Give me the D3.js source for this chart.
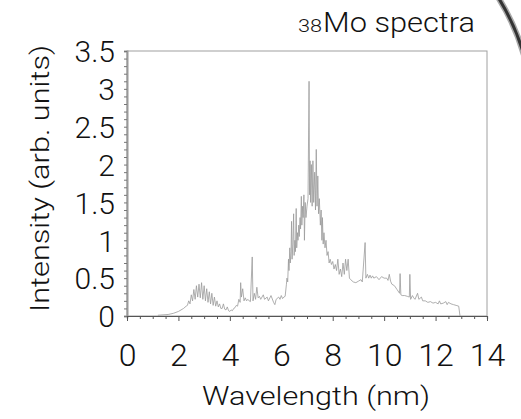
<!DOCTYPE html>
<html>
<head>
<meta charset="utf-8">
<script src="https://cdn.jsdelivr.net/npm/d3@7"></script>
<style>
  html, body { margin: 0; padding: 0; background: #fff; }
  svg { display: block; }
  text { font-family: 'Roboto', 'Liberation Sans', sans-serif; font-weight: 300; fill: #111; }
</style>
</head>
<body>
<svg id="chart" width="521" height="419"></svg>
<script>
// ---- data ----
const wavelength = [
  1.2, 1.4, 1.6, 1.8, 2.0, 2.1, 2.2, 2.3, 2.35, 2.4, 2.45, 2.5, 2.55, 2.6, 2.65, 2.7, 2.75, 2.8, 2.85, 2.9,
  2.95, 3.0, 3.05, 3.1, 3.15, 3.2, 3.25, 3.3, 3.35, 3.4, 3.45, 3.5, 3.55, 3.6, 3.65, 3.7, 3.75, 3.8, 3.85, 3.9,
  3.95, 4.0, 4.05, 4.1, 4.15, 4.2, 4.25, 4.3, 4.35, 4.4, 4.42, 4.45, 4.5, 4.55, 4.6, 4.65, 4.7, 4.75, 4.8, 4.87,
  4.9, 4.95, 5.0, 5.05, 5.1, 5.15, 5.2, 5.3, 5.35, 5.45, 5.5, 5.6, 5.7, 5.75, 5.8, 5.9, 5.95, 6.0, 6.05, 6.1,
  6.15, 6.2, 6.22, 6.25, 6.28, 6.3, 6.33, 6.35, 6.38, 6.4, 6.42, 6.45, 6.48, 6.5, 6.53, 6.55, 6.58, 6.6, 6.63, 6.65,
  6.68, 6.7, 6.73, 6.75, 6.78, 6.8, 6.83, 6.85, 6.88, 6.9, 6.93, 6.96, 7.0, 7.04, 7.08, 7.1, 7.12, 7.14, 7.17, 7.2,
  7.23, 7.26, 7.3, 7.33, 7.36, 7.39, 7.42, 7.45, 7.48, 7.52, 7.55, 7.58, 7.6, 7.63, 7.66, 7.7, 7.74, 7.78, 7.82, 7.86,
  7.9, 7.95, 8.0, 8.05, 8.1, 8.15, 8.2, 8.25, 8.3, 8.35, 8.4, 8.45, 8.5, 8.55, 8.6, 8.65, 8.7, 8.8, 8.9, 9.0,
  9.1, 9.15, 9.26, 9.29, 9.35, 9.4, 9.45, 9.5, 9.55, 9.6, 9.7, 9.8, 9.9, 10.0, 10.1, 10.15, 10.2, 10.25, 10.3, 10.4,
  10.5, 10.6, 10.62, 10.65, 10.7, 10.8, 10.9, 10.98, 11.0, 11.03, 11.1, 11.15, 11.2, 11.3, 11.35, 11.45, 11.5, 11.6, 11.7, 11.8,
  11.9, 12.0, 12.1, 12.15, 12.2, 12.3, 12.4, 12.45, 12.5, 12.6, 12.7, 12.8, 12.9, 12.95
];
const intensity = [
  0.01, 0.015, 0.02, 0.035, 0.06, 0.08, 0.1, 0.13, 0.14, 0.2, 0.16, 0.28, 0.2, 0.35, 0.22, 0.4, 0.25, 0.42, 0.24, 0.44,
  0.22, 0.4, 0.2, 0.36, 0.18, 0.32, 0.16, 0.3, 0.14, 0.25, 0.13, 0.2, 0.12, 0.16, 0.1, 0.1, 0.16, 0.09, 0.08, 0.12,
  0.07, 0.06, 0.08, 0.07, 0.1, 0.11, 0.14, 0.13, 0.22, 0.18, 0.44, 0.25, 0.36, 0.2, 0.24, 0.2, 0.22, 0.2, 0.19, 0.78,
  0.2, 0.3, 0.22, 0.38, 0.24, 0.26, 0.22, 0.28, 0.22, 0.25, 0.2, 0.27, 0.18, 0.15, 0.22, 0.25, 0.22, 0.27, 0.23, 0.25,
  0.26, 0.42, 0.5, 0.45, 0.75, 0.6, 0.9, 0.7, 0.85, 1.25, 0.75, 0.95, 1.35, 0.8, 1.0, 0.85, 1.42, 0.9, 1.1, 1.0,
  1.2, 1.05, 1.3, 1.15, 1.58, 1.2, 1.45, 1.3, 1.6, 1.0, 1.5, 1.3, 1.45, 1.55, 3.1, 1.6, 2.05, 1.5, 2.0, 1.45,
  2.05, 1.5, 1.9, 1.4, 2.2, 1.45, 1.85, 1.35, 1.55, 1.2, 1.4, 1.0, 1.3, 0.95, 1.1, 0.9, 1.0, 0.8, 0.85, 0.7,
  0.75, 0.68, 0.72, 0.62, 0.68, 0.6, 0.75, 0.55, 0.62, 0.52, 0.7, 0.55, 0.75, 0.6, 0.75, 0.5, 0.48, 0.45, 0.44, 0.46,
  0.48, 0.45, 0.97, 0.5, 0.55, 0.5, 0.54, 0.5, 0.53, 0.5, 0.52, 0.48, 0.52, 0.5, 0.5, 0.47, 0.55, 0.46, 0.42, 0.4,
  0.35, 0.3, 0.56, 0.28, 0.27, 0.27, 0.26, 0.25, 0.55, 0.22, 0.27, 0.24, 0.22, 0.3, 0.22, 0.25, 0.2, 0.2, 0.18, 0.19,
  0.17, 0.18, 0.16, 0.2, 0.16, 0.17, 0.19, 0.15, 0.18, 0.16, 0.15, 0.14, 0.13, 0.0
];
const xTickLabels = [0, 2, 4, 6, 8, 10, 12, 14];
const yTickLabels = [0, 0.5, 1, 1.5, 2, 2.5, 3, 3.5];
const xLabel = "Wavelength (nm)";
const yLabel = "Intensity (arb. units)";
const titleSub = "38";
const titleMain = "Mo spectra";

// ---- layout ----
const svg = d3.select("#chart");
const mLeft = 127, mRight = 487, mTop = 51, mBottom = 316;

const x = d3.scaleLinear().domain([0, 14]).range([mLeft, mRight]);
const y = d3.scaleLinear().domain([0, 3.5]).range([mBottom, mTop]);

// frame
svg.append("rect")
  .attr("x", mLeft).attr("y", mTop)
  .attr("width", mRight - mLeft).attr("height", mBottom - mTop)
  .attr("fill", "none").attr("stroke", "#a0a0a0").attr("stroke-width", 1);

// spectrum
const pts = wavelength.map((w, i) => [w, intensity[i]]);
svg.append("path")
  .datum(pts)
  .attr("fill", "none")
  .attr("stroke", "#9a9a9a")
  .attr("stroke-width", 0.8)
  .attr("d", d3.line().x(d => x(d[0])).y(d => y(d[1])));

// y minor ticks
const yMinor = svg.append("g").attr("transform", `translate(${mLeft},0)`)
  .call(d3.axisLeft(y).tickValues(d3.range(0, 36).map(i => i / 10)).tickSize(3).tickFormat(""));
yMinor.select(".domain").attr("stroke", "#999").attr("stroke-width", 2);
yMinor.selectAll(".tick line").attr("stroke", "#777");

// y labels
const yLab = svg.append("g").attr("transform", `translate(${mLeft},0)`)
  .call(d3.axisLeft(y).tickValues(yTickLabels).tickSize(0).tickPadding(12).tickFormat(d3.format("")));
yLab.select(".domain").remove();
yLab.selectAll("text").attr("font-size", 30).attr("font-family", null).attr("fill", "#111").attr("dy", "0.36em");

// x minor ticks
const xMinor = svg.append("g").attr("transform", `translate(0,${mBottom})`)
  .call(d3.axisBottom(x).tickValues(d3.range(0, 29).map(i => i / 2)).tickSize(3).tickFormat(""));
xMinor.select(".domain").attr("stroke", "#555").attr("stroke-width", 1.2);
xMinor.selectAll(".tick line").attr("stroke", "#555");
xMinor.selectAll(".tick").filter(d => d % 2 === 0).select("line").attr("y2", 5);

// x labels
const xLab = svg.append("g").attr("transform", `translate(0,${mBottom})`)
  .call(d3.axisBottom(x).tickValues(xTickLabels).tickSize(0).tickPadding(27).tickFormat(d3.format("")));
xLab.select(".domain").remove();
xLab.selectAll("text").attr("font-size", 32).attr("font-family", null).attr("fill", "#111");

// axis titles
svg.append("text")
  .attr("x", 316).attr("y", 405)
  .attr("text-anchor", "middle")
  .attr("font-size", 26)
  .attr("textLength", 228).attr("lengthAdjust", "spacingAndGlyphs")
  .text(xLabel);

svg.append("text")
  .attr("transform", "translate(49,178.5) rotate(-90)")
  .attr("text-anchor", "middle")
  .attr("font-size", 25)
  .attr("textLength", 267).attr("lengthAdjust", "spacingAndGlyphs")
  .text(yLabel);

// title
svg.append("text").attr("x", 298).attr("y", 32)
  .attr("font-size", 18)
  .attr("textLength", 24).attr("lengthAdjust", "spacingAndGlyphs")
  .text(titleSub);
svg.append("text").attr("x", 323).attr("y", 32)
  .attr("font-size", 27)
  .attr("textLength", 152).attr("lengthAdjust", "spacingAndGlyphs")
  .text(titleMain);

// decorative arc at top-right (part of a ring leaving the frame)
const arcPath = d3.arc()({innerRadius: 233, outerRadius: 233, startAngle: 0.95, endAngle: 1.5});
svg.append("path")
  .attr("d", arcPath)
  .attr("transform", "translate(300,120)")
  .attr("fill", "none").attr("stroke", "#aaa").attr("stroke-width", 6);
svg.append("path")
  .attr("d", arcPath)
  .attr("transform", "translate(300,120)")
  .attr("fill", "none").attr("stroke", "#333").attr("stroke-width", 3);
</script>
</body>
</html>
